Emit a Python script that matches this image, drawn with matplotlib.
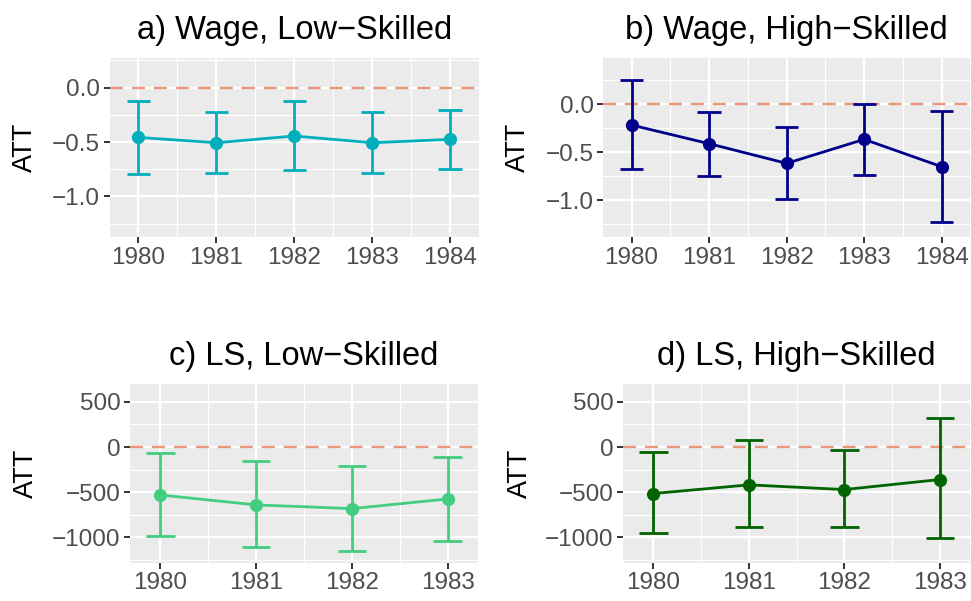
import numpy as np
import matplotlib.pyplot as plt
from matplotlib.ticker import FixedLocator, FuncFormatter

plt.rcParams['font.family'] = ['Liberation Sans', 'DejaVu Sans']
plt.rcParams['axes.unicode_minus'] = True

# Estimates
years_wage = [1980, 1981, 1982, 1983, 1984]
years_ls = [1980, 1981, 1982, 1983]

wage_low = [-0.457, -0.506, -0.444, -0.506, -0.475]
wage_low_lo = [-0.79, -0.78, -0.76, -0.78, -0.75]
wage_low_hi = [-0.127, -0.225, -0.127, -0.225, -0.204]

wage_high = [-0.216, -0.41, -0.615, -0.365, -0.65]
wage_high_lo = [-0.674, -0.747, -0.986, -0.736, -1.226]
wage_high_hi = [0.253, -0.08, -0.233, 0.0, -0.073]

ls_low = [-531, -641, -682, -575]
ls_low_lo = [-981, -1102, -1150, -1036]
ls_low_hi = [-66, -158, -214, -114]

ls_high = [-515, -419, -471, -360]
ls_high_lo = [-952, -890, -886, -1011]
ls_high_hi = [-55, 77, -37, 320]

W, H = 971, 601
fig = plt.figure(figsize=(W / 100, H / 100), dpi=100)


def px_axes(left, top, right, bottom):
    return fig.add_axes([left / W, 1 - bottom / H, (right - left) / W, (bottom - top) / H])


def fmt_dec(v, pos):
    s = "%.1f" % v
    if s == "-0.0":
        s = "0.0"
    return s.replace("-", "\u2212")


def fmt_int(v, pos):
    return ("%d" % round(v)).replace("-", "\u2212")


def panel(rect, years, est, lo, hi, color, title, ylim, major, minor, fmt, ylab_x):
    ax = px_axes(*rect)
    ax.set_facecolor("#EBEBEB")
    for s in ax.spines.values():
        s.set_visible(False)
    x = np.array(years, dtype=float)
    xlim = (x.min() - 0.15 - 0.05 * (x.max() - x.min() + 0.3),
            x.max() + 0.15 + 0.05 * (x.max() - x.min() + 0.3))
    ax.set_xlim(*xlim)
    ax.set_ylim(*ylim)
    ax.xaxis.set_major_locator(FixedLocator(years))
    ax.xaxis.set_minor_locator(FixedLocator(x[:-1] + 0.5))
    ax.yaxis.set_major_locator(FixedLocator(major))
    ax.yaxis.set_minor_locator(FixedLocator(minor))
    ax.yaxis.set_major_formatter(FuncFormatter(fmt))
    ax.grid(which="major", color="white", lw=1.6)
    ax.grid(which="minor", color="white", lw=0.8)
    ax.set_axisbelow(True)
    ax.tick_params(which="major", length=4.5, width=1.4, color="#333333",
                   labelsize=17.5, labelcolor="#4D4D4D", pad=2.5)
    ax.tick_params(which="minor", length=0)

    ax.axhline(0, color="#E9967A", lw=1.7, dashes=(5.5, 3.8), zorder=1.5)
    ax.vlines(x, lo, hi, color=color, lw=2.0, zorder=3)
    ax.hlines(lo, x - 0.15, x + 0.15, color=color, lw=2.0, zorder=3)
    ax.hlines(hi, x - 0.15, x + 0.15, color=color, lw=2.0, zorder=3)
    ax.plot(x, est, color=color, lw=2.0, marker="o", ms=9.5, mew=0, zorder=4)

    ax.set_title(title, fontsize=23.5, pad=14)
    fig.text(ylab_x / W, 1 - (rect[1] + rect[3]) / 2 / H, "ATT", rotation=90,
             ha="center", va="center", fontsize=19.5)
    return ax


panel((110, 58.3, 478.6, 237.3), years_wage, wage_low, wage_low_lo, wage_low_hi,
      "#00AFBB", "a) Wage, Low\u2212Skilled", (-1.375, 0.27),
      [-1.0, -0.5, 0.0], [-1.25, -0.75, -0.25, 0.25], fmt_dec, 25)
panel((603.3, 58.3, 970, 237.3), years_wage, wage_high, wage_high_lo, wage_high_hi,
      "#00008B", "b) Wage, High\u2212Skilled", (-1.385, 0.479),
      [-1.0, -0.5, 0.0], [-1.25, -0.75, -0.25, 0.25], fmt_dec, 518)
panel((130, 384, 478, 562.7), years_ls, ls_low, ls_low_lo, ls_low_hi,
      "#43CD80", "c) LS, Low\u2212Skilled", (-1281, 698),
      [-1000, -500, 0, 500], [-1250, -750, -250, 250], fmt_int, 26)
panel((623.3, 384, 970, 562.7), years_ls, ls_high, ls_high_lo, ls_high_hi,
      "#006400", "d) LS, High\u2212Skilled", (-1281, 698),
      [-1000, -500, 0, 500], [-1250, -750, -250, 250], fmt_int, 520)

fig.savefig("out.png", dpi=100)
